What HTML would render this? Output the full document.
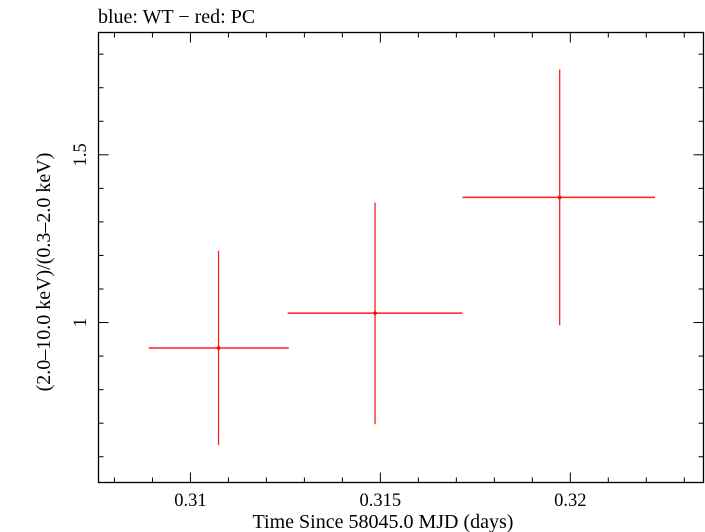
<!DOCTYPE html>
<html><head><meta charset="utf-8"><style>
body{margin:0;background:#fff}
svg{display:block;font-family:"Liberation Serif",serif}
</style></head><body>
<svg id="chart" width="705" height="532" viewBox="0 0 705 532" xmlns="http://www.w3.org/2000/svg">
<text x="98" y="23" font-size="20">blue: WT − red: PC</text>
<rect x="98.5" y="32.5" width="605" height="450" fill="none" stroke="#000" stroke-width="1.3"/>
<g id="ticks"></g>
<g id="marks"></g>
<text x="383" y="528" font-size="20" text-anchor="middle">Time Since 58045.0 MJD (days)</text>
<text transform="translate(50,272) rotate(-90)" font-size="20" text-anchor="middle">(2.0–10.0 keV)/(0.3–2.0 keV)</text>
</svg>
<script>
const xTicks=[0.31,0.315,0.32];
const xTickLabels=["0.31","0.315","0.32"];
const yTicks=[1,1.5];
const yTickLabels=["1","1.5"];
const tMid=[0.31074,0.31486,0.31972];
const tLo=[0.30890,0.31256,0.31716];
const tHi=[0.31259,0.31716,0.32223];
const ratio=[0.924,1.028,1.373];
const ratioLo=[0.635,0.697,0.992];
const ratioHi=[1.214,1.358,1.754];
const L=98.5,R=703.5,T=32.5,B=482.5;
const x0=0.30758,x1=0.323506,y0=0.5232,y1=1.8646;
const X=v=>L+(v-x0)/(x1-x0)*(R-L);
const Y=v=>B-(v-y0)/(y1-y0)*(B-T);
const NS="http://www.w3.org/2000/svg";
function mk(tag,attrs,parent){const e=document.createElementNS(NS,tag);for(const k in attrs)e.setAttribute(k,attrs[k]);parent.appendChild(e);return e;}
const tg=document.getElementById('ticks'),mg=document.getElementById('marks');
for(let i=Math.ceil(x0*1000);i<=Math.floor(x1*1000);i++){
  const v=i/1000,major=i%5===0,len=major?10:5,px=X(v);
  const a=mk('line',{x1:px,x2:px,y1:B,y2:B-len,stroke:'#000','stroke-width':1},tg);
  
  const b=mk('line',{x1:px,x2:px,y1:T,y2:T+len,stroke:'#000','stroke-width':1},tg);
  
}
for(let i=Math.ceil(y0*10);i<=Math.floor(y1*10);i++){
  const v=i/10,major=i%5===0,len=major?10:5,py=Y(v);
  const a=mk('line',{x1:L,x2:L+len,y1:py,y2:py,stroke:'#000','stroke-width':1},tg);
  
  const b=mk('line',{x1:R,x2:R-len,y1:py,y2:py,stroke:'#000','stroke-width':1},tg);
  
}
xTicks.forEach((v,i)=>{const t=mk('text',{x:X(v),y:506,'font-size':18.5,'text-anchor':'middle'},tg);t.textContent=xTickLabels[i];
});
yTicks.forEach((v,i)=>{const t=mk('text',{transform:`translate(86,${Y(v)}) rotate(-90)`,'font-size':18.5,'text-anchor':'middle'},tg);t.textContent=yTickLabels[i];
});
tMid.forEach((v,i)=>{
  const g=mk('g',{},mg);
  
  mk('line',{x1:X(tLo[i]),x2:X(tHi[i]),y1:Y(ratio[i]),y2:Y(ratio[i]),stroke:'#ff2020','stroke-width':1.5},g);
  mk('line',{x1:X(v),x2:X(v),y1:Y(ratioLo[i]),y2:Y(ratioHi[i]),stroke:'#ff2020','stroke-width':1.3},g);
  mk('circle',{cx:X(v),cy:Y(ratio[i]),r:1.8,fill:'#ff0000'},g);
});
</script>
</body></html>
